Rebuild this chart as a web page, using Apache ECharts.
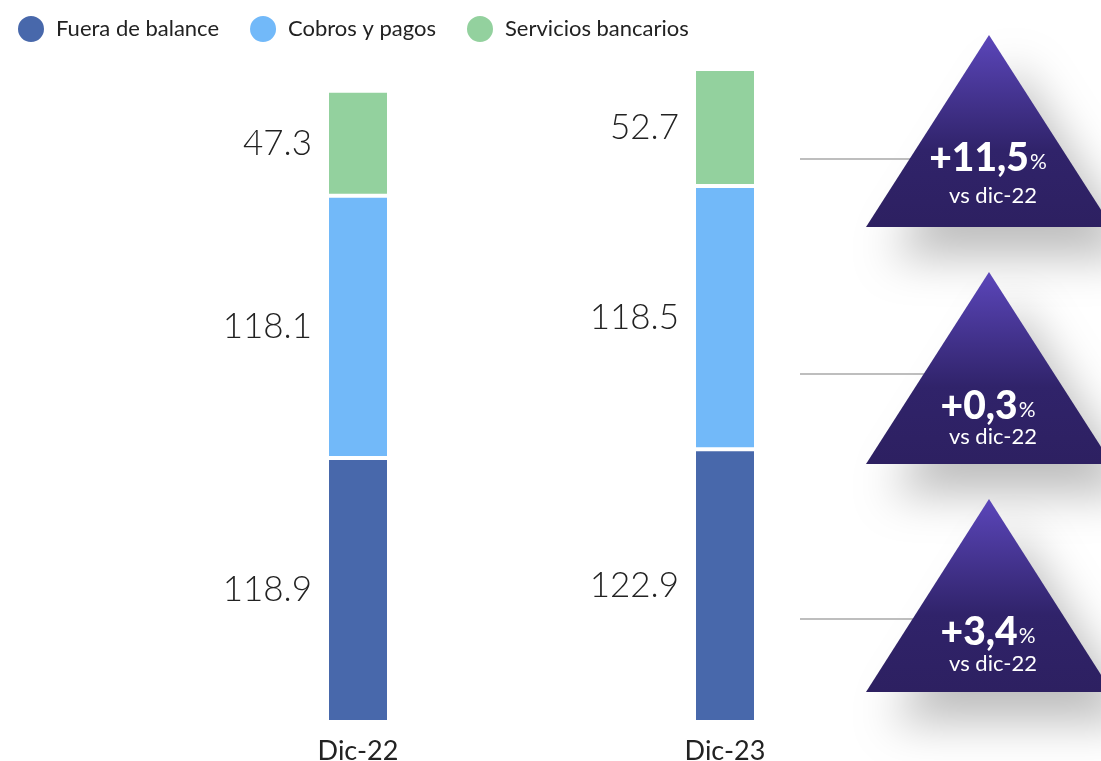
<!DOCTYPE html>
<html>
<head>
<meta charset="utf-8">
<script src="https://cdn.jsdelivr.net/npm/echarts@6/dist/echarts.min.js"></script>
<style>
  html, body { margin: 0; padding: 0; background: #fff; }
  #chart { width: 1101px; height: 761px; }
</style>
</head>
<body>
<div id="chart"></div>
<script>
// datos
const categorias = ["Dic-22", "Dic-23"];
const fueraDeBalance = [118.9, 122.9];
const cobrosYPagos = [118.1, 118.5];
const serviciosBancarios = [47.3, 52.7];
// variaciones vs dic-22 (de arriba a abajo: servicios, cobros, fuera)
const variaciones = ["+11,5", "+0,3", "+3,4"];
const subtitulo = "vs dic-22";

const colores = ["#4868ab", "#72b9f9", "#93d19e"];

let chart = echarts.init(document.getElementById("chart"));

const etiqueta = {
  show: true,
  position: "left",
  distance: 15,
  fontFamily: "Lato",
  fontWeight: 300,
  fontSize: 35,
  color: "#222",
};

function serie(nombre, datos) {
  return {
    name: nombre,
    type: "bar",
    stack: "total",
    barWidth: 62,
    data: datos,
    label: etiqueta,
    itemStyle: { borderColor: "#fff", borderWidth: 2 },
    emphasis: { disabled: true },
  };
}

//triangulos con sombra
const triangulos = [
  { apex: 35, base: 227, linea: 159, texto: 158, sub: 196 },
  { apex: 272, base: 464, linea: 374, texto: 406, sub: 437 },
  { apex: 499, base: 692, linea: 619, texto: 632, sub: 664 },
];
let graficos = [];
triangulos.forEach((t, i) => {
  graficos.push({
    type: "line",
    z: 1,
    shape: { x1: 800, y1: t.linea, x2: 960, y2: t.linea },
    style: { stroke: "#a8a8a8", lineWidth: 1.5 },
  });
  graficos.push({
    type: "polygon",
    z: 2,
    shape: { points: [[989, t.apex], [866, t.base], [1112, t.base]] },
    style: {
      fill: new echarts.graphic.LinearGradient(0, 0, 0, 1, [
        { offset: 0, color: "#5b46ba" },
        { offset: 0.6, color: "#30236a" },
        { offset: 1, color: "#2d2061" },
      ]),
      shadowColor: "rgba(0,0,0,0.26)",
      shadowBlur: 45,
      shadowOffsetX: 25,
      shadowOffsetY: 30,
    },
  });
  graficos.push({
    type: "text",
    z: 3,
    x: 988,
    y: t.texto,
    style: {
      text: "{b|" + variaciones[i] + "}{p|%}",
      align: "center",
      verticalAlign: "middle",
      rich: {
        b: { fontFamily: "Lato", fontWeight: 900, fontSize: 39, fill: "#fff", color: "#fff" },
        p: { fontFamily: "Lato", fontSize: 21, fill: "#fff", color: "#fff", padding: [8, 0, 0, 1] },
      },
    },
  });
  graficos.push({
    type: "text",
    z: 3,
    x: 993,
    y: t.sub,
    style: {
      text: subtitulo,
      align: "center",
      verticalAlign: "middle",
      fontFamily: "Lato",
      fontSize: 22,
      fill: "#fff",
    },
  });
});

let option = {
  color: colores,
  animation: false,
  legend: {
    left: 16,
    top: 14,
    padding: 0,
    icon: "circle",
    itemWidth: 28,
    itemHeight: 28,
    itemGap: 29,
    textStyle: { fontFamily: "Lato", fontSize: 22, color: "#222", padding: [0, 0, 0, 6] },
    data: ["Fuera de balance", "Cobros y pagos", "Servicios bancarios"],
  },
  grid: { left: 174.5, right: 192.5, top: 56, bottom: 39, outerBoundsMode: "none" },
  xAxis: {
    type: "category",
    data: categorias,
    axisLine: { show: false },
    axisTick: { show: false },
    axisLabel: { fontFamily: "Lato", fontSize: 27, color: "#222", margin: 16 },
  },
  yAxis: { type: "value", min: 0, max: 300, show: false, splitLine: { show: false } },
  series: [
    serie("Fuera de balance", fueraDeBalance),
    serie("Cobros y pagos", cobrosYPagos),
    serie("Servicios bancarios", serviciosBancarios),
  ],
  graphic: graficos,
};
chart.setOption(option);
</script>
</body>
</html>
